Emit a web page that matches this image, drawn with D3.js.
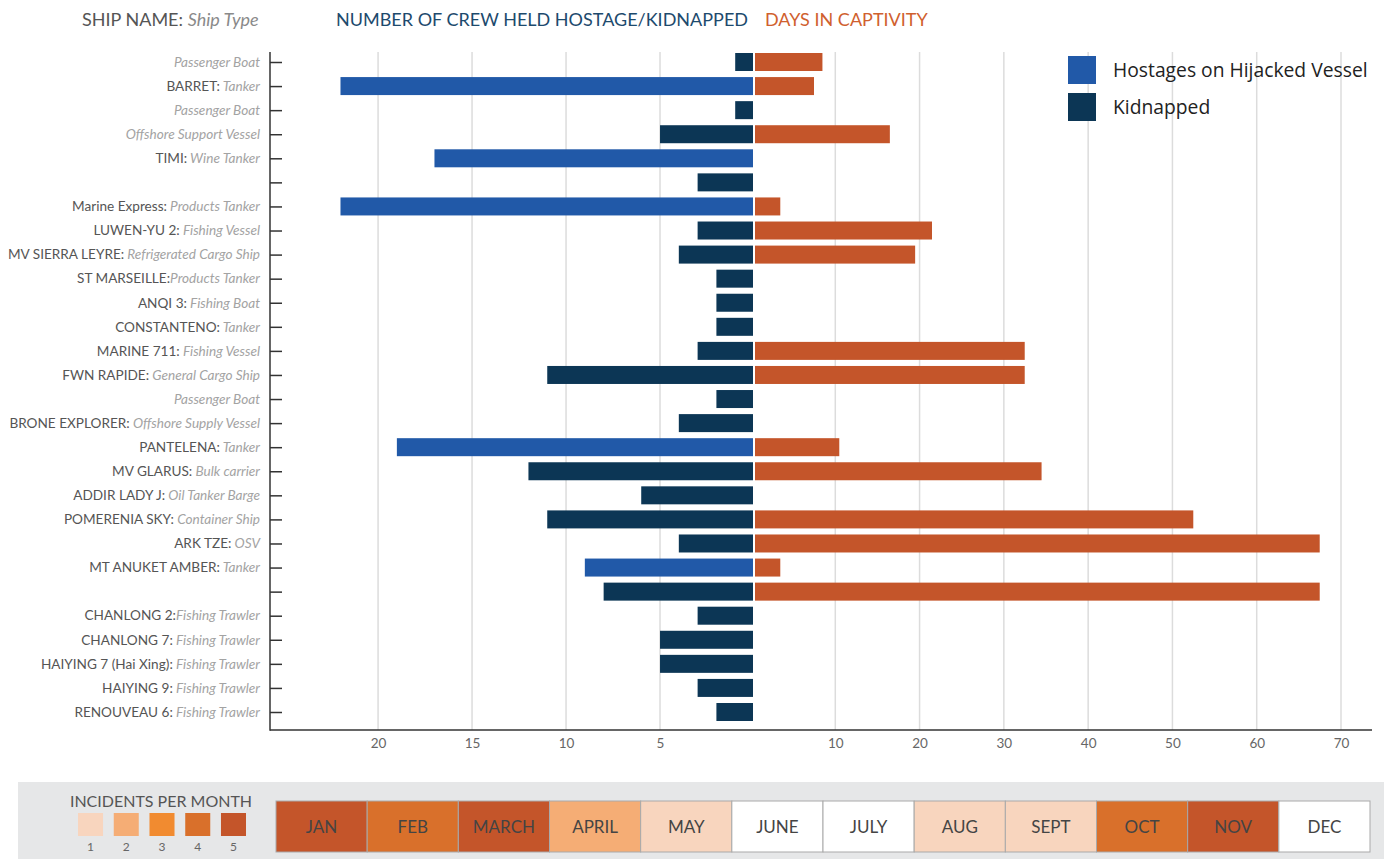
<!DOCTYPE html>
<html>
<head>
<meta charset="utf-8">
<script src="https://cdn.jsdelivr.net/npm/d3@7"></script>
<style>
  body { margin: 0; background: #fff; }
  svg { display: block; font-family: Lato, "Open Sans", sans-serif; }
</style>
</head>
<body>
<svg id="chart" width="1384" height="859"></svg>
<script>
// ---------- DATA ----------
const shipNames = [
  "", "BARRET:", "", "", "TIMI:", "", "Marine Express:", "LUWEN-YU 2:",
  "MV SIERRA LEYRE:", "ST MARSEILLE:", "ANQI 3:", "CONSTANTENO:", "MARINE 711:",
  "FWN RAPIDE:", "", "BRONE EXPLORER:", "PANTELENA:", "MV GLARUS:", "ADDIR LADY J:",
  "POMERENIA SKY:", "ARK TZE:", "MT ANUKET AMBER:", "", "CHANLONG 2:", "CHANLONG 7:",
  "HAIYING 7 (Hai Xing):", "HAIYING 9:", "RENOUVEAU 6:"
];
const shipTypes = [
  "Passenger Boat", " Tanker", "Passenger Boat", "Offshore Support Vessel", " Wine Tanker", "",
  " Products Tanker", " Fishing Vessel", " Refrigerated Cargo Ship", "Products Tanker",
  " Fishing Boat", " Tanker", " Fishing Vessel", " General Cargo Ship", "Passenger Boat",
  " Offshore Supply Vessel", " Tanker", " Bulk carrier", " Oil Tanker Barge", " Container Ship",
  " OSV", " Tanker", "", "Fishing Trawler", " Fishing Trawler", " Fishing Trawler",
  " Fishing Trawler", " Fishing Trawler"
];
const crewCount = [1, 22, 1, 5, 17, 3, 22, 3, 4, 2, 2, 2, 3, 11, 2, 4, 19, 12, 6, 11, 4, 9, 8, 3, 5, 5, 3, 2];
const crewKind = ["K","H","K","K","H","K","H","K","K","K","K","K","K","K","K","K","H","K","K","K","K","H","K","K","K","K","K","K"];
const captivityDays = [8, 7, 0, 16, 0, 0, 3, 21, 19, 0, 0, 0, 32, 32, 0, 0, 10, 34, 0, 52, 67, 3, 67, 0, 0, 0, 0, 0];

const crewTicks = [20, 15, 10, 5];
const dayTicks = [10, 20, 30, 40, 50, 60, 70];

const legendLabels = ["Hostages on Hijacked Vessel", "Kidnapped"];
const legendKinds = ["H", "K"];

const months = ["JAN","FEB","MARCH","APRIL","MAY","JUNE","JULY","AUG","SEPT","OCT","NOV","DEC"];
const incidentsPerMonth = [5, 4, 5, 2, 1, 0, 0, 1, 1, 4, 5, 0];
const incidentLevels = [1, 2, 3, 4, 5];

// ---------- STYLE ----------
const kindColor = { H: "#2159a8", K: "#0c3655" };
const dayColor = "#c4552a";
const levelColor = d3.scaleOrdinal().domain([0,1,2,3,4,5])
  .range(["#ffffff", "#f8d5be", "#f5ad75", "#f18b30", "#d9702b", "#c4552a"]);

const svg = d3.select("#chart");

// ---------- SCALES ----------
const rows = d3.range(shipNames.length);
const y = d3.scalePoint().domain(rows).range([62, 712]);
const xL = d3.scaleLinear().domain([0, 25.75]).range([754, 270]);
const xR = d3.scaleLinear().domain([0, 70]).range([751, 1341]);
const barH = 18;
const plotTop = 52, plotBottom = 730;

// ---------- HEADER ----------
const h1 = svg.append("text").attr("x", 82).attr("y", 26).attr("font-size", 18);
h1.append("tspan").attr("fill", "#555").text("SHIP NAME: ");
h1.append("tspan").attr("fill", "#8a8a8a").attr("font-style", "italic").text("Ship Type");
svg.append("text").attr("x", 336).attr("y", 26).attr("font-size", 18).attr("fill", "#1d4a6d")
  .attr("textLength", 412).attr("lengthAdjust", "spacingAndGlyphs")
  .text("NUMBER OF CREW HELD HOSTAGE/KIDNAPPED");
svg.append("text").attr("x", 765).attr("y", 26).attr("font-size", 18).attr("fill", "#d0602e")
  .text("DAYS IN CAPTIVITY");

// ---------- GRID ----------
const grid = svg.append("g");
grid.selectAll("line.gl").data(crewTicks).join("line")
  .attr("x1", d => xL(d)).attr("x2", d => xL(d))
  .attr("y1", plotTop).attr("y2", plotBottom)
  .attr("stroke", "#dcdcdc").attr("stroke-width", 1.5);
grid.selectAll("line.gr").data(dayTicks).join("line")
  .attr("x1", d => xR(d)).attr("x2", d => xR(d))
  .attr("y1", plotTop).attr("y2", plotBottom)
  .attr("stroke", "#dcdcdc").attr("stroke-width", 1.5);

// ---------- BARS ----------
svg.append("g").selectAll("rect").data(rows).join("rect")
  .attr("x", i => xL(crewCount[i]))
  .attr("y", i => y(i) - barH / 2)
  .attr("width", i => xL(0) - xL(crewCount[i]) - 1)
  .attr("height", barH)
  .attr("fill", i => kindColor[crewKind[i]]);

svg.append("g").selectAll("rect").data(rows.filter(i => captivityDays[i] > 0)).join("rect")
  .attr("x", xR(0) + 4)
  .attr("y", i => y(i) - barH / 2)
  .attr("width", i => xR(captivityDays[i]) - xR(0))
  .attr("height", barH)
  .attr("fill", dayColor);

// ---------- AXES ----------
const yAxis = d3.axisRight(y).tickSize(12).tickFormat("");
const ya = svg.append("g").attr("transform", "translate(270,0)").call(yAxis);
ya.select(".domain").remove();
ya.selectAll(".tick line").attr("stroke", "#333").attr("stroke-width", 1.5);

svg.append("line").attr("x1", 270).attr("x2", 270).attr("y1", plotTop).attr("y2", plotBottom + 0.75)
  .attr("stroke", "#333").attr("stroke-width", 1.5);
svg.append("line").attr("x1", 270).attr("x2", 1372).attr("y1", plotBottom).attr("y2", plotBottom)
  .attr("stroke", "#333").attr("stroke-width", 1.5);

// row labels
const labels = svg.append("g").selectAll("text").data(rows).join("text")
  .attr("x", 260).attr("y", i => y(i)).attr("dy", "0.35em")
  .attr("text-anchor", "end").attr("font-size", 13.6);
labels.append("tspan").attr("fill", "#555").text(i => shipNames[i]);
labels.append("tspan").attr("fill", "#a3a3a3").attr("font-style", "italic").text(i => shipTypes[i]);

// bottom tick labels
const bl = d3.axisBottom(xL).tickValues(crewTicks).tickSize(0).tickPadding(8);
const br = d3.axisBottom(xR).tickValues(dayTicks).tickSize(0).tickPadding(8);
[bl, br].forEach(ax => {
  const g = svg.append("g").attr("transform", `translate(0,${plotBottom})`).call(ax);
  g.select(".domain").remove();
  g.selectAll("text").attr("font-size", 13.5).attr("fill", "#666").attr("font-family", "Lato, sans-serif");
});

// ---------- LEGEND ----------
const lg = svg.append("g").selectAll("g").data(legendKinds).join("g")
  .attr("transform", (d, i) => `translate(1068,${56 + i * 37})`);
lg.append("rect").attr("width", 28).attr("height", 28).attr("fill", d => kindColor[d]);
lg.append("text").attr("x", 45).attr("y", 14).attr("dy", "0.35em").attr("font-size", 19.3)
  .attr("fill", "#222").attr("font-family", "'Open Sans', Lato, sans-serif")
  .text((d, i) => legendLabels[i]);

// ---------- MONTH PANEL ----------
svg.append("rect").attr("x", 18).attr("y", 782).attr("width", 1366).attr("height", 77).attr("fill", "#e6e7e8");
svg.append("text").attr("x", 161).attr("y", 807).attr("text-anchor", "middle").attr("font-size", 16)
  .attr("fill", "#555").text("INCIDENTS PER MONTH");

const xs = d3.scaleBand().domain(incidentLevels).range([78, 246]).paddingInner(0.3);
const sw = svg.append("g").selectAll("g").data(incidentLevels).join("g");
sw.append("rect").attr("x", d => xs(d)).attr("y", 813).attr("width", xs.bandwidth()).attr("height", 23)
  .attr("fill", d => levelColor(d));
sw.append("text").attr("x", d => xs(d) + xs.bandwidth() / 2).attr("y", 851).attr("text-anchor", "middle")
  .attr("font-size", 12).attr("fill", "#666").text(d => d);

const xm = d3.scaleBand().domain(months).range([276, 1370]);
const mg = svg.append("g").selectAll("g").data(months).join("g");
mg.append("rect").attr("x", d => xm(d)).attr("y", 801).attr("width", xm.bandwidth()).attr("height", 51)
  .attr("fill", (d, i) => levelColor(incidentsPerMonth[i])).attr("stroke", "#a9a9a9").attr("stroke-width", 1);
mg.append("text").attr("x", d => xm(d) + xm.bandwidth() / 2).attr("y", 827).attr("dy", "0.35em")
  .attr("text-anchor", "middle").attr("font-size", 17).attr("fill", "#444").text(d => d);
</script>
</body>
</html>
